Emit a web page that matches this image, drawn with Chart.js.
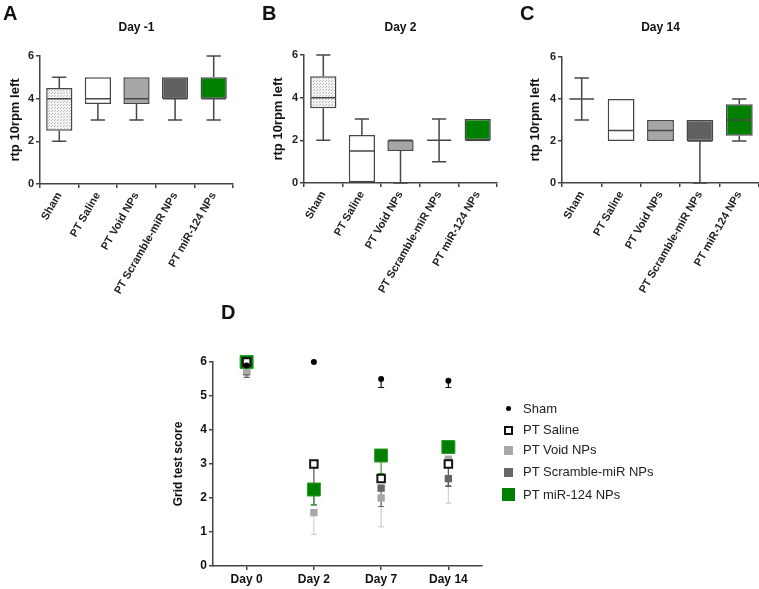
<!doctype html>
<html>
<head>
<title></title>
<script src="https://cdn.jsdelivr.net/npm/chart.js@4.4.0/dist/chart.umd.min.js"></script>
<style>
    body { margin: 0; background: #fff; width: 759px; height: 589px; position: relative; overflow: hidden; font-family: "Liberation Sans", Arial, sans-serif; }
    canvas { position: absolute; }
    #legend { position: absolute; left: 500px; top: 398px; font-size: 13px; color: #222; }
    .row { position: absolute; left: 0; height: 20px; white-space: nowrap; }
    .mk { position: absolute; box-sizing: border-box; }
    .txt { position: absolute; left: 23px; top: 0; line-height: 20px; }
</style>
</head>
<body>
<canvas id="cA" width="250" height="310" style="left:0;top:0"></canvas>
<canvas id="cB" width="250" height="310" style="left:250px;top:0"></canvas>
<canvas id="cC" width="259" height="310" style="left:500px;top:0"></canvas>
<canvas id="cD" width="330" height="299" style="left:170px;top:290px"></canvas>
<div id="legend">
    <div class="row" style="top:1px"><div class="mk" style="left:6px;top:7px;width:5px;height:5px;border-radius:50%;background:#000"></div><div class="txt">Sham</div></div>
    <div class="row" style="top:22px"><div class="mk" style="left:4px;top:6px;width:9px;height:9px;border:2px solid #111;background:#fff"></div><div class="txt">PT Saline</div></div>
    <div class="row" style="top:42px"><div class="mk" style="left:4px;top:6px;width:9px;height:9px;background:#a8a8a8"></div><div class="txt">PT Void NPs</div></div>
    <div class="row" style="top:64px"><div class="mk" style="left:4px;top:6px;width:9px;height:9px;background:#666"></div><div class="txt">PT Scramble-miR NPs</div></div>
    <div class="row" style="top:87px"><div class="mk" style="left:2px;top:3px;width:13px;height:13px;background:#008000"></div><div class="txt">PT miR-124 NPs</div></div>
</div>
<script>
    // groups of the box plots
    var groups = ['Sham', 'PT Saline', 'PT Void NPs', 'PT Scramble-miR NPs', 'PT miR-124 NPs'];
    var yTicks = [0, 2, 4, 6];

    // Day -1
    var dM1Min = [2, 3, 3, 3, 3];
    var dM1Q1 = [2.5, 3.75, 3.75, 4, 4];
    var dM1Med = [4, 4, 4, 4, 4];
    var dM1Q3 = [4.5, 5, 5, 5, 5];
    var dM1Max = [5, 5, 5, 5, 6];
    // Day 2
    var d2Min = [2, 0, 0, 1, 2];
    var d2Q1 = [3.5, 0, 1.5, 2, 2];
    var d2Med = [4, 1.5, 2, 2, 2];
    var d2Q3 = [5, 2.25, 2, 2, 3];
    var d2Max = [6, 3, 2, 3, 3];
    // Day 14
    var d14Min = [3, 2, 2, 0, 2];
    var d14Q1 = [4, 2, 2, 2, 2.25];
    var d14Med = [4, 2.5, 2.5, 2, 3];
    var d14Q3 = [4, 4, 3, 3, 3.75];
    var d14Max = [5, 4, 3, 3, 4];

    // grid test (panel D), mean and lower end of error bar
    var days = ['Day 0', 'Day 2', 'Day 7', 'Day 14'];
    var shamMean = [5.9, 6, 5.5, 5.45];
    var shamLow = [5.9, 6, 5.25, 5.25];
    var salineMean = [6, 3, 2.57, 3];
    var salineLow = [6, 2.3, 2.57, 2.35];
    var voidMean = [5.75, 1.57, 2, 3.14];
    var voidLow = [5.55, 0.93, 1.15, 1.85];
    var scrambleMean = [5.71, 2.29, 2.29, 2.57];
    var scrambleLow = [5.55, 1.8, 1.75, 2.35];
    var mirMean = [6, 2.25, 3.25, 3.5];
    var mirLow = [6, 1.8, 2.72, 3.5];

    var axisColor = '#444';
    var tickFont = { family: 'Liberation Sans', size: 11, weight: 'bold' };

    function dotPattern() {
        var p = document.createElement('canvas');
        p.width = 3; p.height = 3;
        var c = p.getContext('2d');
        c.fillStyle = '#f4f4f4';
        c.fillRect(0, 0, 3, 3);
        c.fillStyle = '#bcbcbc';
        c.fillRect(0, 0, 1, 1);
        c.fillRect(1, 2, 1, 1);
        return document.createElement('canvas').getContext('2d').createPattern(p, 'repeat');
    }

    // titles and panel letters
    var labelsPlugin = {
        id: 'panelText',
        afterDraw: function (chart, args, opts) {
            var ctx = chart.ctx;
            ctx.save();
            ctx.fillStyle = '#111';
            ctx.textBaseline = 'middle';
            ctx.font = 'bold 12px "Liberation Sans"';
            ctx.textAlign = 'center';
            if (opts.title) ctx.fillText(opts.title, (chart.chartArea.left + chart.chartArea.right) / 2, opts.titleY);
            ctx.font = 'bold 20px "Liberation Sans"';
            ctx.textAlign = 'left';
            ctx.fillText(opts.letter, opts.letterX, opts.letterY);
            ctx.restore();
        }
    };

    function whiskerPlugin(mins, meds, maxs) {
        return {
            id: 'whiskers',
            afterDatasetsDraw: function (chart) {
                var ctx = chart.ctx, y = chart.scales.y, meta = chart.getDatasetMeta(0);
                var data = chart.data.datasets[0].data;
                ctx.save();
                ctx.strokeStyle = '#474747';
                ctx.lineWidth = 1.5;
                meta.data.forEach(function (bar, i) {
                    var x = bar.x, half = bar.width / 2, cap = bar.width * 0.27;
                    var lo = y.getPixelForValue(data[i][0]), hi = y.getPixelForValue(data[i][1]);
                    var yMin = y.getPixelForValue(mins[i]), yMax = y.getPixelForValue(maxs[i]);
                    var yMed = y.getPixelForValue(meds[i]);
                    ctx.beginPath();
                    if (maxs[i] > data[i][1]) {
                        ctx.moveTo(x, hi); ctx.lineTo(x, yMax);
                        ctx.moveTo(x - cap, yMax); ctx.lineTo(x + cap, yMax);
                    }
                    if (mins[i] < data[i][0]) {
                        ctx.moveTo(x, lo); ctx.lineTo(x, yMin);
                        ctx.moveTo(x - cap, yMin); ctx.lineTo(x + cap, yMin);
                    }
                    ctx.moveTo(x - half + 1, yMed); ctx.lineTo(x + half - 1, yMed);
                    ctx.stroke();
                });
                ctx.restore();
            }
        };
    }

    function boxChart(id, title, letter, letterX, q1, q3, mins, meds, maxs, box) {
        var fills = [dotPattern(), '#ffffff', '#a6a6a6', '#606060', '#008000'];
        var ranges = [];
        for (var i = 0; i < q1.length; i++) ranges.push([q1[i], q3[i]]);
        return new Chart(document.getElementById(id), {
            type: 'bar',
            data: {
                labels: groups,
                datasets: [{
                    data: ranges,
                    backgroundColor: fills,
                    borderColor: '#474747',
                    borderWidth: 1.5,
                    borderSkipped: false,
                    barPercentage: 0.68,
                    categoryPercentage: 1
                }]
            },
            options: {
                responsive: false,
                animation: false,
                layout: { padding: { left: 0, top: box.top, right: box.right, bottom: 0 } },
                plugins: {
                    legend: { display: false },
                    tooltip: { enabled: false },
                    panelText: { title: title, titleY: 28, letter: letter, letterX: letterX, letterY: 14 }
                },
                scales: {
                    x: {
                        grid: { display: true, drawOnChartArea: false, drawTicks: true, tickLength: 4, color: axisColor, lineWidth: 1.5 },
                        border: { color: axisColor, width: 1.5 },
                        ticks: { font: tickFont, color: '#222', minRotation: 60, maxRotation: 60, autoSkip: false, padding: 2 },
                        afterFit: function (s) { s.height = 310 - box.bottom; }
                    },
                    y: {
                        min: 0, max: 6,
                        afterBuildTicks: function (s) { s.ticks = yTicks.map(function (v) { return { value: v }; }); },
                        grid: { display: true, drawOnChartArea: false, drawTicks: true, tickLength: 4, color: axisColor, lineWidth: 1.5 },
                        border: { color: axisColor, width: 1.5 },
                        ticks: { font: tickFont, color: '#222', padding: 2 },
                        title: { display: true, text: 'rtp 10rpm left', font: { family: 'Liberation Sans', size: 13, weight: 'bold' }, color: '#111', padding: { top: box.titlePad, bottom: 0 } },
                        afterFit: function (s) { s.width = box.left; }
                    }
                }
            },
            plugins: [whiskerPlugin(mins, meds, maxs), labelsPlugin]
        });
    }

    boxChart('cA', 'Day -1', 'A', 3, dM1Q1, dM1Q3, dM1Min, dM1Med, dM1Max, { left: 40, top: 56, right: 17, bottom: 184, titlePad: 8 });
    boxChart('cB', 'Day 2', 'B', 12, d2Q1, d2Q3, d2Min, d2Med, d2Max, { left: 54, top: 55, right: 3, bottom: 183, titlePad: 21 });
    boxChart('cC', 'Day 14', 'C', 20, d14Q1, d14Q3, d14Min, d14Med, d14Max, { left: 62, top: 57, right: 0, bottom: 183, titlePad: 28 });

    // panel D error bars (down only), drawn behind the markers
    var errColors = ['#111', '#555', '#cfcfcf', '#666', '#3c9a3c'];
    var errLows = [shamLow, salineLow, voidLow, scrambleLow, mirLow];
    var errorBars = {
        id: 'errorBars',
        beforeDatasetsDraw: function (chart) {
            var ctx = chart.ctx, y = chart.scales.y;
            ctx.save();
            ctx.lineWidth = 1.2;
            [2, 3, 1, 4, 0].forEach(function (d) {
                var meta = chart.getDatasetMeta(d);
                ctx.strokeStyle = errColors[d];
                meta.data.forEach(function (pt, i) {
                    var mean = chart.data.datasets[d].data[i];
                    if (errLows[d][i] >= mean) return;
                    var yl = y.getPixelForValue(errLows[d][i]);
                    ctx.beginPath();
                    ctx.moveTo(pt.x, pt.y); ctx.lineTo(pt.x, yl);
                    ctx.moveTo(pt.x - 3, yl); ctx.lineTo(pt.x + 3, yl);
                    ctx.stroke();
                });
            });
            ctx.restore();
        }
    };

    new Chart(document.getElementById('cD'), {
        type: 'line',
        data: {
            labels: days,
            datasets: [
                { label: 'Sham', data: shamMean, clip: false, showLine: false, pointStyle: 'circle', pointRadius: 3, backgroundColor: '#000', borderColor: '#000', borderWidth: 0, order: 0 },
                { label: 'PT Saline', data: salineMean, clip: false, showLine: false, pointStyle: 'rect', pointRadius: 5.3, backgroundColor: '#fff', borderColor: '#111', borderWidth: 2, order: 1 },
                { label: 'PT Void NPs', data: voidMean, clip: false, showLine: false, pointStyle: 'rect', pointRadius: 5.2, backgroundColor: '#a8a8a8', borderColor: '#a8a8a8', borderWidth: 0, order: 3 },
                { label: 'PT Scramble-miR NPs', data: scrambleMean, clip: false, showLine: false, pointStyle: 'rect', pointRadius: 5.2, backgroundColor: '#666', borderColor: '#666', borderWidth: 0, order: 4 },
                { label: 'PT miR-124 NPs', data: mirMean, clip: false, showLine: false, pointStyle: 'rect', pointRadius: 9.2, backgroundColor: '#008000', borderColor: '#2f9a2f', borderWidth: 1, order: 2 }
            ]
        },
        options: {
            responsive: false,
            animation: false,
            layout: { padding: { left: 0, top: 72, right: 18, bottom: 0 } },
            plugins: {
                legend: { display: false },
                tooltip: { enabled: false },
                panelText: { title: '', letter: 'D', letterX: 51, letterY: 23 }
            },
            scales: {
                x: {
                    offset: true,
                    grid: { display: true, drawOnChartArea: false, drawTicks: true, tickLength: 4, color: axisColor, lineWidth: 1.5, offset: false },
                    border: { color: axisColor, width: 1.5 },
                    ticks: { font: { family: 'Liberation Sans', size: 12, weight: 'bold' }, color: '#111', maxRotation: 0, padding: 2 },
                    afterFit: function (s) { s.height = 23; }
                },
                y: {
                    min: 0, max: 6,
                    ticks: { stepSize: 1, font: { family: 'Liberation Sans', size: 12, weight: 'bold' }, color: '#111', padding: 2 },
                    grid: { display: true, drawOnChartArea: false, drawTicks: true, tickLength: 4, color: axisColor, lineWidth: 1.5 },
                    border: { color: axisColor, width: 1.5 },
                    title: { display: true, text: 'Grid test score', font: { family: 'Liberation Sans', size: 12, weight: 'bold' }, color: '#111', padding: { top: 1, bottom: 0 } },
                    afterFit: function (s) { s.width = 43; }
                }
            }
        },
        plugins: [errorBars, labelsPlugin]
    });
</script>
</body>
</html>
